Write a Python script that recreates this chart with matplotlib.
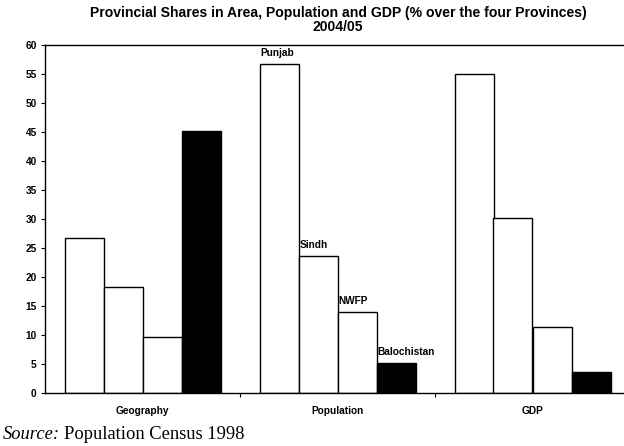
import matplotlib
matplotlib.use("Agg")
import matplotlib.pyplot as plt
import numpy as np

categories = ["Geography", "Population", "GDP"]
provinces = ["Punjab", "Sindh", "NWFP", "Balochistan"]
values = {
    "Punjab": [26.7, 56.8, 55.0],
    "Sindh": [18.3, 23.7, 30.1],
    "NWFP": [9.7, 14.0, 11.4],
    "Balochistan": [45.2, 5.2, 3.6],
}
colors = ["white", "white", "white", "black"]
yticks = list(range(0, 61, 5))

W, H = 624, 446
fig = plt.figure(figsize=(W / 100, H / 100), dpi=100)
left, right, bottom, top = 45, 630, 393, 45
ax = fig.add_axes([left / W, 1 - bottom / H, (right - left) / W, (bottom - top) / H])

x = np.arange(len(categories))
bw = 0.2
for i, p in enumerate(provinces):
    pos = x - 0.3 + i * bw
    ax.bar(pos, values[p], width=bw, color=colors[i], edgecolor="black", linewidth=1.0, zorder=2)

# province labels above the Population bars
for i, p in enumerate(provinces):
    xl = 1 - 0.4 + i * bw
    ax.text(xl + 0.005, values[p][1] + 1.0, p, fontsize=7.3, fontweight="bold",
            family="Liberation Sans", ha="left", va="bottom")

ax.set_xlim(-0.5, 2.5)
ax.set_ylim(0, 60)
ax.set_yticks(yticks)
ax.set_yticklabels([str(t) for t in yticks], fontsize=7.3, fontweight="bold", family="Liberation Sans")
ax.set_xticks([0.5, 1.5])
ax.set_xticklabels([])
ax.tick_params(axis="y", direction="out", length=3, width=0.8, pad=3)
ax.tick_params(axis="x", direction="out", length=3, width=0.8)
for c, lab in zip(x, categories):
    ax.text(c, -2.3, lab, fontsize=7.3, fontweight="bold", family="Liberation Sans",
            ha="center", va="top")

for s in ["left", "top", "bottom", "right"]:
    ax.spines[s].set_linewidth(1.0)
    ax.spines[s].set_color("black")

fig.text(338 / W, 1 - 6 / H, "Provincial Shares in Area, Population and GDP (% over the four Provinces)\n2004/05",
         fontsize=10.1, fontweight="bold", family="Liberation Sans", ha="center", va="top", linespacing=1.0)

t1 = fig.text(3 / W, 1 - 439 / H, "Source:", fontsize=13.3, family="Liberation Serif",
              style="italic", ha="left", va="baseline")
fig.canvas.draw()
bb = t1.get_window_extent()
fig.text((bb.x1 + 4) / W, 1 - 439 / H, "Population Census 1998", fontsize=13.3,
         family="Liberation Serif", ha="left", va="baseline")

fig.savefig("out.png", dpi=100)
